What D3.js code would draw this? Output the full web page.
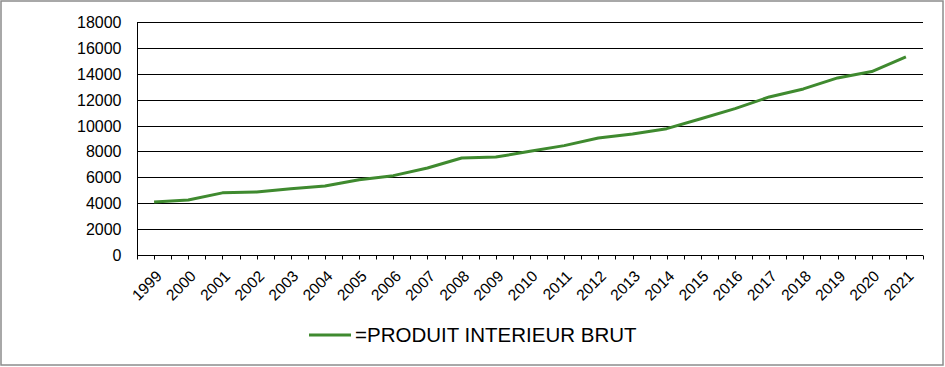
<!DOCTYPE html>
<html><head><meta charset="utf-8">
<script src="https://cdn.jsdelivr.net/npm/d3@7/dist/d3.min.js"></script>
<style>
html,body{margin:0;padding:0;background:#fff;}
svg{display:block;font-family:"Liberation Sans",Arial,sans-serif;}
</style></head>
<body>
<script>
const years = ["1999","2000","2001","2002","2003","2004","2005","2006","2007","2008","2009","2010","2011","2012","2013","2014","2015","2016","2017","2018","2019","2020","2021"];
const pib = [4100,4250,4800,4870,5120,5330,5820,6130,6720,7490,7570,8010,8450,9040,9350,9760,10530,11310,12210,12830,13680,14170,15300];
const yTicks = [0,2000,4000,6000,8000,10000,12000,14000,16000,18000];
const seriesName = "=PRODUIT INTERIEUR BRUT";

const W = 945, H = 367;
const m = {left:137, right:22, top:22, bottom:112};
const svg = d3.select("body").append("svg").attr("width",W).attr("height",H);

svg.append("rect").attr("x",1).attr("y",1).attr("width",W-3).attr("height",H-3)
  .attr("fill","#fff").attr("stroke","#8c8c8c").attr("stroke-width",1.5);

const x = d3.scaleBand().domain(years).range([m.left, W-m.right]);
const y = d3.scaleLinear().domain([0,18000]).range([H-m.bottom, m.top]);

// gridlines
svg.append("g").selectAll("line").data(yTicks.filter(d=>d>0)).join("line")
  .attr("x1",m.left).attr("x2",W-m.right)
  .attr("y1",d=>Math.round(y(d))+0.5).attr("y2",d=>Math.round(y(d))+0.5)
  .attr("stroke","#000").attr("stroke-width",1);

// y axis
const ya = svg.append("g").attr("transform",`translate(${m.left+0.5},0)`)
  .call(d3.axisLeft(y).tickValues(yTicks).tickSize(0).tickPadding(16).tickFormat(d3.format("d")));
ya.select(".domain").attr("stroke","#000").attr("d",`M0,${m.top}V${y(0)+4}`);
ya.selectAll("text").attr("font-size",16).attr("fill","#000").attr("font-family","Liberation Sans, Arial, sans-serif");
ya.selectAll(".tick").attr("transform",d=>`translate(0,${Math.round(y(d))+0.5})`);

// x axis baseline and ticks (every half category)
const base = Math.round(y(0))+0.5;
svg.append("line").attr("x1",m.left).attr("x2",W-m.right).attr("y1",base).attr("y2",base).attr("stroke","#000");
const bw = x.bandwidth();
const tickPos = [];
years.forEach(yr=>{tickPos.push(x(yr)); tickPos.push(x(yr)+bw/2);});
tickPos.push(x(years[years.length-1])+bw);
svg.append("g").selectAll("line").data(tickPos).join("line")
  .attr("x1",d=>Math.round(d)+0.5).attr("x2",d=>Math.round(d)+0.5)
  .attr("y1",base).attr("y2",base+4).attr("stroke","#000");

svg.append("g").selectAll("text").data(years).join("text")
  .attr("transform",d=>`translate(${x(d)+bw/2+1},${base+14}) rotate(-45)`)
  .attr("text-anchor","end").attr("dy","0.7em")
  .attr("font-size",15.5).attr("fill","#000").text(d=>d);

// line
const line = d3.line().x((d,i)=>x(years[i])+bw/2).y(d=>y(d));
svg.append("path").datum(pib).attr("d",line).attr("fill","none")
  .attr("stroke","#3f8a2f").attr("stroke-width",3).attr("stroke-linejoin","round");

// legend
svg.append("line").attr("x1",309).attr("x2",351).attr("y1",335).attr("y2",335)
  .attr("stroke","#3f8a2f").attr("stroke-width",3);
svg.append("text").attr("x",355).attr("y",342).attr("font-size",20.5).attr("fill","#000").text(seriesName);
</script>
</body></html>
